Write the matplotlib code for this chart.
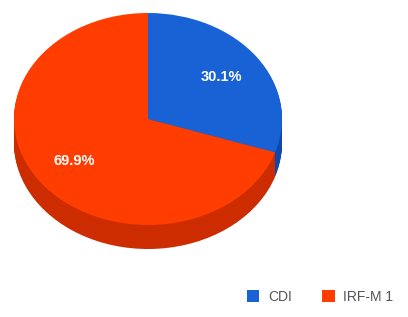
import numpy as np
import matplotlib.pyplot as plt
from matplotlib.patches import Patch

labels = ['CDI', 'IRF-M 1']
values = [30.1, 69.9]
top_colors = ['#1862d6', '#ff3d00']
side_colors = ['#0f48a8', '#cc2c00']

W, H = 408, 317
cx, cy = 148, 119        # pie centre in pixels
rx, ry = 134, 106        # ellipse radii in pixels
depth = 24               # thickness of the 3D rim in pixels

fig = plt.figure(figsize=(W / 100, H / 100), dpi=100)
ax = fig.add_axes([0, 0, 1, 1])

# rim: stack of darker pies shifted down
for off in np.linspace(depth, 1, 28):
    ax.pie(values, colors=side_colors, startangle=90, counterclock=False,
           center=(0, -off / ry), radius=1, frame=True,
           wedgeprops=dict(linewidth=0))

wedges, texts, autotexts = ax.pie(
    values, colors=top_colors, startangle=90, counterclock=False,
    center=(0, 0), radius=1, frame=True, autopct='%.1f%%', pctdistance=0.68,
    wedgeprops=dict(linewidth=0),
    textprops=dict(color='white', fontsize=10.5, fontweight='bold',
                   family='Liberation Sans'))

ax.set_xlim(-cx / rx, (W - cx) / rx)
ax.set_ylim(-(H - cy) / ry, cy / ry)
ax.set_aspect('auto')
ax.axis('off')

handles = [Patch(facecolor=c, edgecolor='none') for c in top_colors]
fig.legend(handles, labels, loc='center', bbox_to_anchor=(320 / W, 1 - 297 / H),
           ncol=2, frameon=False, handlelength=0.9, handleheight=0.9,
           handletextpad=0.6, columnspacing=2.2, labelcolor='#555555',
           prop=dict(family='Liberation Sans', size=10))

fig.savefig('out.png', dpi=100)
